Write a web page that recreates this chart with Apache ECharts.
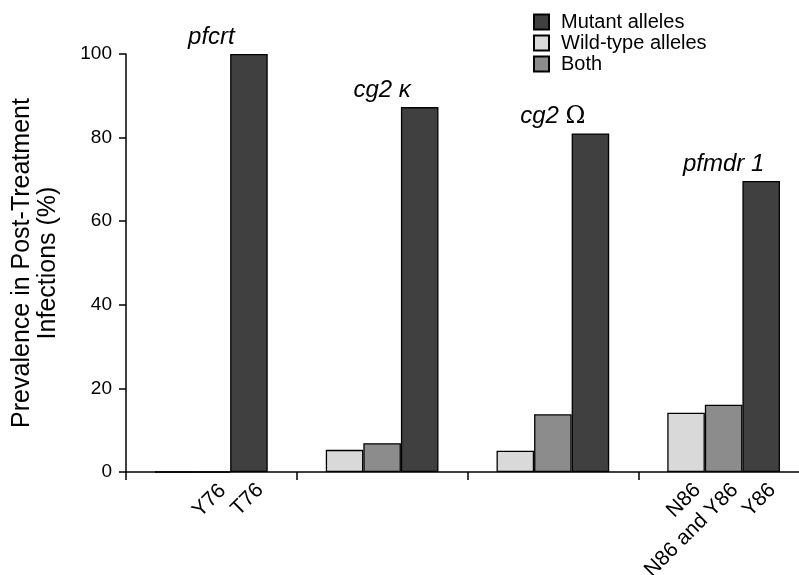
<!DOCTYPE html>
<html>
<head>
<meta charset="utf-8">
<script src="https://cdn.jsdelivr.net/npm/echarts@6/dist/echarts.min.js"></script>
<style>html,body{margin:0;padding:0;background:#fff;}#c{width:799px;height:575px;}</style>
</head>
<body>
<div id="c"></div>
<script>
var genes = ['pfcrt', 'cg2 κ', 'cg2 Ω', 'pfmdr 1'];
var wildValues = [0, 5.3, 5.1, 14.2];
var bothValues = [0, 6.9, 13.8, 16.1];
var mutantValues = [100, 87.3, 81, 69.6];
var wildTickLabels = ['', '', '', 'N86'];
var bothTickLabels = ['Y76', '', '', 'N86 and Y86'];
var mutantTickLabels = ['T76', '', '', 'Y86'];
var yTicks = [0, 20, 40, 60, 80, 100];

var FONT = 'Liberation Sans, Arial, Helvetica, sans-serif';

function barData(values, labels) {
  return values.map(function (v, i) {
    return {
      value: v,
      label: {
        show: labels[i] !== '',
        formatter: labels[i]
      }
    };
  });
}
var tickLabelStyle = {
  position: 'bottom',
  distance: 5,
  rotate: 45,
  align: 'right',
  verticalAlign: 'middle',
  offset: [1, 15],
  fontFamily: FONT,
  fontSize: 21,
  color: '#000'
};
var border = { borderColor: '#000', borderWidth: 1.3 };

var chart = echarts.init(document.getElementById('c'), null, { renderer: 'canvas' });
chart.setOption({
  animation: false,
  backgroundColor: '#fff',
  grid: { left: 126, width: 683, top: 54, bottom: 103, outerBoundsMode: 'none', containLabel: false },
  legend: {
    orient: 'vertical',
    left: 533,
    top: 12,
    padding: 0,
    icon: 'rect',
    itemWidth: 15,
    itemHeight: 15,
    itemGap: 1,
    data: ['Mutant alleles', 'Wild-type alleles', 'Both'],
    textStyle: { fontFamily: FONT, fontSize: 20, color: '#000', padding: [0, 0, 0, 7] }
  },
  xAxis: {
    type: 'category',
    data: genes,
    axisLine: { show: true, lineStyle: { color: '#000', width: 1.5 } },
    axisTick: { show: true, length: 8, lineStyle: { color: '#000', width: 1.5 } },
    axisLabel: { show: false },
    splitLine: { show: false }
  },
  yAxis: {
    type: 'value',
    min: 0,
    max: 100,
    interval: 20,
    name: 'Prevalence in Post-Treatment\nInfections (%)',
    nameLocation: 'middle',
    nameGap: 65,
    nameTextStyle: { fontFamily: FONT, fontSize: 25, lineHeight: 26, color: '#000' },
    axisLine: { show: true, lineStyle: { color: '#000', width: 1.5 } },
    axisTick: { show: true, length: 7, lineStyle: { color: '#000', width: 1.5 } },
    axisLabel: {
      margin: 14, fontFamily: FONT, fontSize: 19, color: '#000',
      formatter: function (v) { return yTicks.indexOf(v) >= 0 ? String(v) : ''; }
    },
    splitLine: { show: false }
  },
  series: [
    {
      name: 'Wild-type alleles', type: 'bar', barGap: 0, barCategoryGap: '34%',
      itemStyle: Object.assign({ color: '#d9d9d9' }, border),
      label: tickLabelStyle,
      data: barData(wildValues, wildTickLabels)
    },
    {
      name: 'Both', type: 'bar', barGap: 0, barCategoryGap: '34%',
      itemStyle: Object.assign({ color: '#8c8c8c' }, border),
      label: tickLabelStyle,
      data: barData(bothValues, bothTickLabels)
    },
    {
      name: 'Mutant alleles', type: 'bar', barGap: 0, barCategoryGap: '34%',
      itemStyle: Object.assign({ color: '#404040' }, border),
      label: tickLabelStyle,
      data: barData(mutantValues, mutantTickLabels)
    },
    {
      name: 'geneNames', type: 'scatter', symbolSize: 0, silent: true,
      itemStyle: { color: '#000', opacity: 1 },
      data: genes.map(function (g, i) {
        return [g, Math.max(wildValues[i], bothValues[i], mutantValues[i])];
      }),
      label: {
        show: true, position: 'top', distance: 5,
        formatter: function (p) {
          var t = genes[p.dataIndex];
          return t.split(' ').map(function (w) {
            return w === 'Ω' ? '{n|Ω}' : '{i|' + w + '}';
          }).join(' ');
        },
        fontFamily: FONT, fontStyle: 'italic', fontSize: 24, color: '#000',
        rich: {
          i: { fontFamily: FONT, fontStyle: 'italic', fontSize: 24, color: '#000' },
          n: { fontFamily: 'DejaVu Serif, Liberation Serif, serif', fontStyle: 'normal', fontSize: 24, color: '#000' }
        }
      }
    }
  ]
});
</script>
</body>
</html>
